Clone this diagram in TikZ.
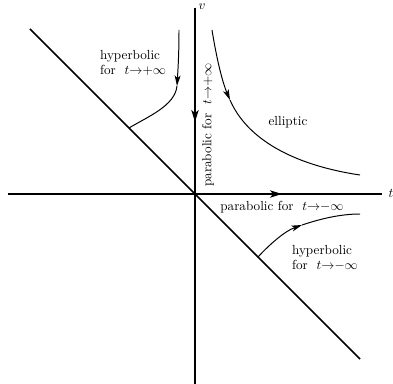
\documentclass[tikz,border=0pt]{standalone}
\usepackage{amssymb}
\usepackage{amsmath}
\usetikzlibrary{arrows.meta}
\tikzset{axs/.style={line width=1.5pt},
  diag/.style={line width=1.1pt},
  traj/.style={line width=0.75pt},
  tip/.style={-{Stealth[length=8pt,width=4.5pt,inset=2pt]}},
  bigtip/.style={-{Stealth[length=9pt,width=5.5pt,inset=2.2pt]}},
  lbl/.style={inner sep=0pt, align=left}}

\begin{document}
\begin{tikzpicture}[x=0.76pt,y=0.76pt]
\useasboundingbox (-195,-189) rectangle (198,194);
\coordinate (w) at (-187,0);
\coordinate (e) at (187,0);
\coordinate (n) at (0,186);
\coordinate (s) at (0,-192);
\coordinate (hx) at (87,0);
\coordinate (vy) at (0,72);
\coordinate (nw) at (-165,165);
\coordinate (se) at (165,-165);
\draw[axs] (w) -- (e);
\draw[axs,bigtip] (w) -- (hx);
\draw[axs] (n) -- (s);
\draw[axs,bigtip] (n) -- (vy);
\draw[diag] (nw) -- (se);
\node[lbl] (t) at (196,1) {$t$};
\node[lbl] (v) at (7,187) {$v$};
% elliptic
\coordinate (e0) at (17,164);
\coordinate (e1) at (35,94);
\coordinate (e2) at (165,19);
\draw[traj,tip] (e0) .. controls (23,127) and (29,108) .. (e1);
\draw[traj] (e1) .. controls (52,55) and (98,29) .. (e2);
% hyperbolic for t -> +infinity
\coordinate (a0) at (-16,164);
\coordinate (a1) at (-18,108);
\coordinate (a2) at (-66,66);
\draw[traj,tip] (a0) .. controls (-16,140) and (-17,125) .. (a1);
\draw[traj] (a1) .. controls (-20,88) and (-48,77) .. (a2);
% hyperbolic for t -> -infinity
\coordinate (b0) at (63,-63);
\coordinate (b1) at (107,-31);
\coordinate (b2) at (165,-20);
\draw[traj,tip] (b0) .. controls (75,-50) and (90,-37) .. (b1);
\draw[traj] (b1) .. controls (125,-25) and (145,-20) .. (b2);
\node[lbl] (hp) at (-62,131) {hyperbolic\\for\ \ $t{\to}{+}\infty$};
\node[lbl] (hm) at (130,-64) {hyperbolic\\for\ \ $t{\to}{-}\infty$};
\node[lbl] (el) at (93,72) {elliptic};
\node[lbl,rotate=90] (pp) at (13,69) {parabolic for\ \ $t{\to}{+}\infty$};
\node[lbl] (pm) at (87,-13) {parabolic for\ \ $t{\to}{-}\infty$};
\end{tikzpicture}
\end{document}
